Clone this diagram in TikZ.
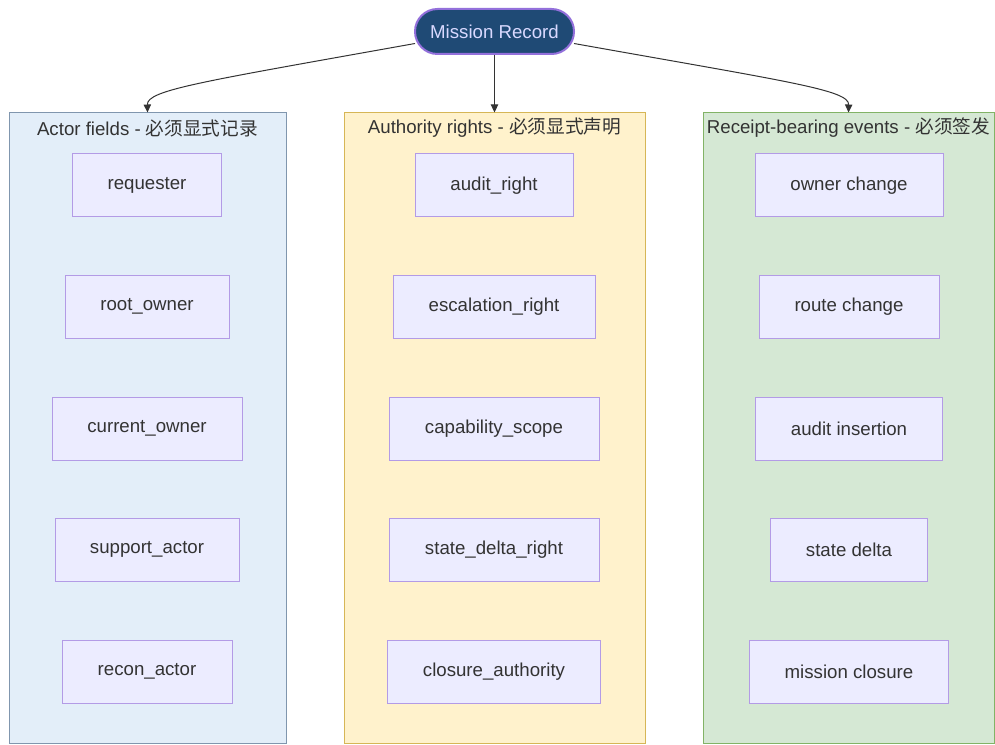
\documentclass[tikz,border=0pt]{standalone}
\usepackage{fontspec}
\setmainfont{Liberation Sans}
\newfontfamily\cjk{Noto Sans CJK SC}
\usetikzlibrary{arrows.meta,shapes.misc}
\definecolor{txt}{HTML}{333333}
\definecolor{nfill}{HTML}{ECECFF}
\definecolor{nline}{HTML}{9370DB}
\definecolor{bfill}{HTML}{E3EEF9}
\definecolor{bline}{HTML}{8096AE}
\definecolor{yfill}{HTML}{FFF2CC}
\definecolor{yline}{HTML}{D6B656}
\definecolor{gfill}{HTML}{D5E8D4}
\definecolor{gline}{HTML}{82B366}
\definecolor{mfill}{HTML}{1F4A75}
\begin{document}
\begin{tikzpicture}[x=0.75pt,y=-0.75pt,
  every node/.style={font=\fontsize{14}{16}\selectfont, text=txt, inner sep=0pt},
  cl/.style={draw, line width=0.75pt, rectangle},
  ttl/.style={anchor=center},
  box/.style={draw=nline!70, fill=nfill, line width=0.75pt, minimum height=63*0.75pt},
  conn/.style={draw=txt, line width=0.75pt, -{Triangle[length=6pt,width=5.5pt]}}]
\useasboundingbox (0,0) rectangle (995,745);
% clusters
\node[cl, draw=bline, fill=bfill, minimum width=277*0.75pt, minimum height=630*0.75pt] (lc) at (147.5,428) {};
\node[cl, draw=yline, fill=yfill, minimum width=301*0.75pt, minimum height=630*0.75pt] (mc) at (494.5,428) {};
\node[cl, draw=gline, fill=gfill, minimum width=291*0.75pt, minimum height=630*0.75pt] (rc) at (848.5,428) {};
\node[ttl] (lt) at (147.5,128) {Actor fields - {\cjk 必须显式记录}};
\node[ttl] (mt) at (494.5,128) {Authority rights - {\cjk 必须显式声明}};
\node[ttl] (rt) at (848.5,128) {Receipt-bearing events - {\cjk 必须签发}};
% root
\node[rounded rectangle, draw=nline, line width=1.5pt, fill=mfill, text=white!85!blue, minimum width=159*0.75pt, minimum height=45*0.75pt] (mr) at (494.5,31.5) {Mission Record};
% left
\node[box, minimum width=149*0.75pt] (a1) at (147,185.5) {requester};
\node[box, minimum width=164*0.75pt] (a2) at (147,306.5) {root\_owner};
\node[box, minimum width=190*0.75pt] (a3) at (147,428.5) {current\_owner};
\node[box, minimum width=184*0.75pt] (a4) at (147,549.5) {support\_actor};
\node[box, minimum width=170*0.75pt] (a5) at (147,671.5) {recon\_actor};
% middle
\node[box, minimum width=158*0.75pt] (b1) at (494,185.5) {audit\_right};
\node[box, minimum width=202*0.75pt] (b2) at (494,306.5) {escalation\_right};
\node[box, minimum width=210*0.75pt] (b3) at (494,428.5) {capability\_scope};
\node[box, minimum width=210*0.75pt] (b4) at (494,549.5) {state\_delta\_right};
\node[box, minimum width=213*0.75pt] (b5) at (494,671.5) {closure\_authority};
% right
\node[box, minimum width=188*0.75pt] (c1) at (849,185.5) {owner change};
\node[box, minimum width=180*0.75pt] (c2) at (849,306.5) {route change};
\node[box, minimum width=187*0.75pt] (c3) at (849,428.5) {audit insertion};
\node[box, minimum width=157*0.75pt] (c4) at (849,549.5) {state delta};
\node[box, minimum width=199*0.75pt] (c5) at (849,671.5) {mission closure};
% connectors
\draw[conn] (mr.west) ++(1,12) .. controls (200,82) and (147,90) .. (lc.north);
\draw[conn] (mr.south) -- (mc.north);
\draw[conn] (mr.east) ++(-1,12) .. controls (790,82) and (849,90) .. (rc.north);
\end{tikzpicture}
\end{document}
